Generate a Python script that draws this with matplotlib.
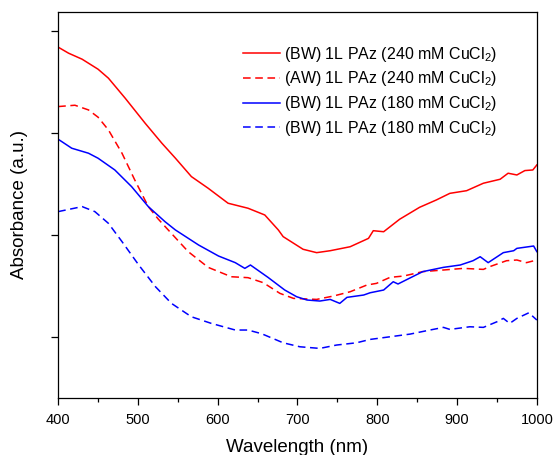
import matplotlib
matplotlib.use("Agg")
import matplotlib.pyplot as plt
from matplotlib.ticker import MultipleLocator

plt.rcParams['font.family'] = ['Liberation Sans', 'DejaVu Sans']
plt.rcParams['mathtext.fontset'] = 'custom'
plt.rcParams['mathtext.rm'] = 'Liberation Sans'
plt.rcParams['mathtext.it'] = 'Liberation Sans'

# (BW) 240 mM
wl_bw240 = [400, 413, 430, 450, 463, 484, 509, 530, 547, 567, 588, 613, 638, 659, 676, 682,
            707, 724, 741, 766, 789, 795, 808, 828, 853, 874, 891, 912, 933, 954, 964, 975,
            985, 995, 1000]
bw240 = [2.840, 2.781, 2.722, 2.624, 2.536, 2.340, 2.095, 1.899, 1.752, 1.572, 1.458, 1.311,
         1.262, 1.196, 1.049, 0.984, 0.860, 0.827, 0.846, 0.885, 0.967, 1.042, 1.032, 1.154,
         1.271, 1.343, 1.408, 1.434, 1.507, 1.546, 1.605, 1.588, 1.631, 1.637, 1.686]

# (AW) 240 mM
wl_aw240 = [400, 421, 438, 450, 463, 480, 496, 513, 525, 538, 563, 588, 617, 638, 657, 678,
            695, 724, 745, 766, 787, 799, 816, 833, 857, 883, 908, 933, 941, 962, 975, 987, 1000]
aw240 = [2.258, 2.271, 2.225, 2.154, 2.029, 1.801, 1.539, 1.278, 1.160, 1.049, 0.837, 0.683,
         0.591, 0.582, 0.533, 0.428, 0.379, 0.369, 0.402, 0.444, 0.510, 0.526, 0.585, 0.598,
         0.641, 0.657, 0.673, 0.663, 0.690, 0.748, 0.755, 0.729, 0.755]

# (BW) 180 mM
wl_bw180 = [400, 417, 438, 450, 471, 492, 513, 534, 547, 576, 601, 622, 634, 641, 663, 684,
            699, 712, 728, 741, 753, 762, 783, 791, 808, 820, 826, 840, 857, 883, 904, 920,
            929, 939, 958, 971, 975, 996, 1000]
bw180 = [1.938, 1.850, 1.801, 1.752, 1.637, 1.474, 1.278, 1.130, 1.049, 0.902, 0.794, 0.729,
         0.673, 0.706, 0.585, 0.461, 0.395, 0.363, 0.353, 0.369, 0.330, 0.389, 0.412, 0.434,
         0.461, 0.542, 0.520, 0.575, 0.641, 0.683, 0.706, 0.748, 0.787, 0.729, 0.827, 0.846,
         0.869, 0.892, 0.837]

# (BW) 180 mM, dashed
wl_bw180d = [400, 430, 446, 463, 480, 501, 522, 542, 567, 592, 622, 638, 655, 682, 703, 728,
             749, 774, 791, 816, 841, 866, 883, 891, 916, 933, 950, 958, 966, 975, 990, 1000]
bw180d = [1.229, 1.278, 1.229, 1.114, 0.935, 0.706, 0.493, 0.330, 0.199, 0.134, 0.069, 0.069,
          0.033, -0.056, -0.095, -0.111, -0.078, -0.056, -0.023, 0.003, 0.029, 0.069, 0.095,
          0.075, 0.101, 0.095, 0.150, 0.183, 0.134, 0.183, 0.238, 0.167]

labels = ['(BW) 1L PAz (240 mM CuCl$_2$)', '(AW) 1L PAz (240 mM CuCl$_2$)',
          '(BW) 1L PAz (180 mM CuCl$_2$)', '(BW) 1L PAz (180 mM CuCl$_2$)']
xticks = [400, 500, 600, 700, 800, 900, 1000]

fig = plt.figure(figsize=(5.54, 4.55), dpi=100)
ax = fig.add_axes([0.105, 0.125, 0.864, 0.849])

ax.plot(wl_bw240, bw240, color='#ff0000', lw=1.1, label=labels[0])
ax.plot(wl_aw240, aw240, color='#ff0000', lw=1.1, ls=(0, (5, 3)), label=labels[1])
ax.plot(wl_bw180, bw180, color='#0000ff', lw=1.1, label=labels[2])
ax.plot(wl_bw180d, bw180d, color='#0000ff', lw=1.1, ls=(0, (5, 3)), label=labels[3])

ax.set_xlim(400, 1000)
ax.set_ylim(-0.598, 3.186)
ax.set_xticks(xticks)
ax.xaxis.set_minor_locator(MultipleLocator(50))
ax.set_yticks([0, 1, 2, 3])
ax.set_yticklabels([])
ax.tick_params(axis='both', which='major', direction='out', length=5, width=0.9,
               labelsize=10.5, pad=6)
ax.tick_params(axis='x', which='minor', direction='out', length=3, width=0.9)
for s in ax.spines.values():
    s.set_linewidth(0.9)

ax.set_xlabel('Wavelength (nm)', fontsize=13.5, labelpad=8)
ax.set_ylabel('Absorbance (a.u.)', fontsize=13.5, labelpad=11)

ax.legend(loc='upper left', bbox_to_anchor=(0.386, 0.915), frameon=False, fontsize=11.5,
          handlelength=2.3, handletextpad=0.3, labelspacing=0.36, borderpad=0, borderaxespad=0)

fig.savefig('out.png', dpi=100)
